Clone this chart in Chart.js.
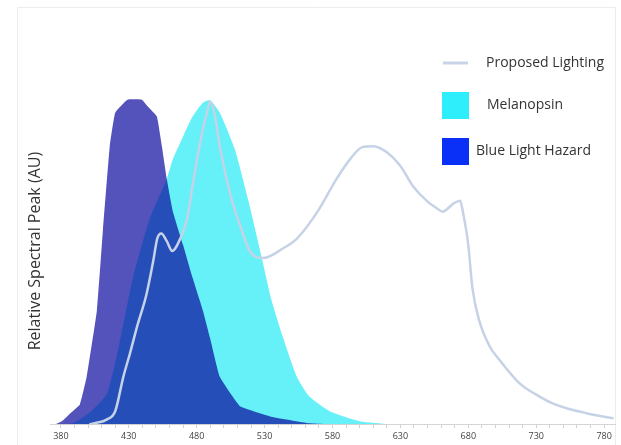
<!DOCTYPE html>
<html lang="en">
<head>
<meta charset="UTF-8">
<title>Relative Spectral Peak</title>
<style>
  html, body { margin: 0; padding: 0; background: #fff; }
  #wrap { width: 621px; height: 445px; position: relative; }
</style>
</head>
<body>
<div id="wrap"><canvas id="spectrumChart"></canvas></div>

<script src="https://cdn.jsdelivr.net/npm/chart.js@4.4.1/dist/chart.umd.min.js"></script>
<script>
// x axis labels (nm); minor tick marks every 10 nm between them
const xTickLabels = [380, 430, 480, 530, 580, 630, 680, 730, 780];

// Proposed Lighting spectrum
const lightNm  = [401, 405, 414, 420, 426, 431, 436, 443, 448, 451, 454, 458, 462, 468, 473, 477, 482, 487.5, 490, 493, 497, 502, 507, 512, 519, 529, 544, 554, 569, 583, 593, 602, 610, 620, 630, 639, 650, 657, 661, 669, 674, 676, 680, 683, 688, 696, 703, 718, 730, 742, 755, 767, 779, 787];
const lightVal = [0.0, 0.003, 0.015, 0.04, 0.146, 0.22, 0.299, 0.40, 0.503, 0.573, 0.588, 0.564, 0.534, 0.573, 0.634, 0.735, 0.857, 0.96, 0.994, 0.96, 0.857, 0.756, 0.674, 0.613, 0.534, 0.512, 0.543, 0.573, 0.655, 0.756, 0.817, 0.854, 0.857, 0.838, 0.796, 0.735, 0.686, 0.665, 0.655, 0.68, 0.689, 0.655, 0.552, 0.42, 0.32, 0.238, 0.198, 0.125, 0.091, 0.064, 0.046, 0.034, 0.024, 0.018];

// Melanopsin sensitivity
const melNm  = [385, 390, 401, 414, 423, 433, 445.5, 458, 462.5, 470, 477, 484.6, 490, 497, 508, 517.7, 528, 534.6, 543.5, 553.8, 563, 578, 600, 622];
const melVal = [0.0, 0.005, 0.035, 0.095, 0.247, 0.45, 0.634, 0.756, 0.817, 0.887, 0.948, 0.991, 0.998, 0.96, 0.848, 0.695, 0.512, 0.39, 0.268, 0.146, 0.085, 0.04, 0.009, 0.0];

// Blue Light Hazard function
const blhNm  = [376, 381, 387, 394, 399, 406.5, 411, 416, 420, 429, 439.6, 444, 450.7, 454.4, 458, 462.5, 470, 477, 484.6, 489.7, 497, 512, 534, 563, 580];
const blhVal = [0.0, 0.01, 0.034, 0.061, 0.146, 0.35, 0.60, 0.857, 0.96, 1.0, 1.0, 0.979, 0.948, 0.857, 0.756, 0.655, 0.552, 0.451, 0.35, 0.268, 0.146, 0.055, 0.024, 0.003, 0.0];

const toPoints = (xs, ys) => xs.map((x, i) => ({ x: x, y: ys[i] }));

const fontFamily = '"Open Sans", "DejaVu Sans", sans-serif';

// light frame around the figure
const framePlugin = {
    id: 'frame',
    beforeDraw(chart) {
        const ctx = chart.ctx;
        ctx.save();
        ctx.strokeStyle = '#ececec';
        ctx.lineWidth = 1;
        ctx.beginPath();
        ctx.moveTo(17.5, chart.height + 5);
        ctx.lineTo(17.5, 7.5);
        ctx.lineTo(615.5, 7.5);
        ctx.lineTo(615.5, chart.height + 5);
        ctx.stroke();
        ctx.restore();
    }
};

// legend drawn inside the plot, top right
const legendPlugin = {
    id: 'insideLegend',
    afterDraw(chart) {
        const ctx = chart.ctx;
        ctx.save();
        ctx.font = '14px ' + fontFamily;
        ctx.textBaseline = 'middle';
        chart.data.datasets.forEach((ds) => {
            const lg = ds.legend;
            if (lg.kind === 'line') {
                ctx.strokeStyle = lg.color;
                ctx.lineWidth = 3;
                ctx.beginPath();
                ctx.moveTo(443, lg.y);
                ctx.lineTo(468, lg.y);
                ctx.stroke();
            } else {
                ctx.fillStyle = lg.color;
                ctx.fillRect(442, lg.y - 13, 27, 27);
            }
            ctx.fillStyle = '#333';
            ctx.fillText(ds.label, lg.textX, lg.y);
        });
        ctx.restore();
    }
};

const config = {
    type: 'line',
    data: {
        datasets: [
            {
                label: 'Proposed Lighting',
                data: toPoints(lightNm, lightVal),
                borderColor: '#c6d2e6',
                borderWidth: 2.5,
                pointRadius: 0,
                fill: false,
                tension: 0.3,
                cubicInterpolationMode: 'monotone',
                order: 0,
                legend: { kind: 'line', color: '#c8d3e6', y: 63, textX: 486 }
            },
            {
                label: 'Melanopsin',
                data: toPoints(melNm, melVal),
                backgroundColor: '#66f0f8',
                borderWidth: 0,
                pointRadius: 0,
                fill: 'origin',
                tension: 0.2,
                order: 2,
                legend: { kind: 'box', color: '#2eeefc', y: 105, textX: 487 }
            },
            {
                label: 'Blue Light Hazard',
                data: toPoints(blhNm, blhVal),
                backgroundColor: 'rgba(11, 8, 158, 0.7)',
                borderWidth: 0,
                pointRadius: 0,
                fill: 'origin',
                tension: 0.1,
                order: 1,
                legend: { kind: 'box', color: '#0a30f8', y: 151, textX: 476 }
            }
        ]
    },
    options: {
        responsive: true,
        maintainAspectRatio: false,
        animation: false,
        devicePixelRatio: 1,
        layout: { padding: { top: 78, right: 6, left: 0, bottom: 0 } },
        plugins: {
            legend: { display: false },
            tooltip: { enabled: false }
        },
        scales: {
            x: {
                type: 'linear',
                min: 372,
                max: 788,
                afterBuildTicks(scale) {
                    const ticks = [];
                    for (let v = xTickLabels[0]; v <= xTickLabels[xTickLabels.length - 1]; v += 10) {
                        ticks.push({ value: v });
                    }
                    scale.ticks = ticks;
                },
                ticks: {
                    autoSkip: false,
                    maxRotation: 0,
                    padding: 3,
                    color: '#444',
                    font: { family: fontFamily, size: 9 },
                    callback: (value) => xTickLabels.includes(value) ? String(value) : ''
                },
                grid: {
                    drawOnChartArea: false,
                    drawTicks: true,
                    tickLength: 4,
                    color: '#d4d4d4'
                },
                border: { color: '#d4d4d4' }
            },
            y: {
                min: 0,
                max: 1.067,
                afterFit(scale) { scale.width = 50; },
                ticks: { display: false },
                grid: { display: false },
                border: { display: false },
                title: {
                    display: true,
                    text: 'Relative Spectral Peak (AU)',
                    color: '#333',
                    font: { family: fontFamily, size: 16 },
                    padding: { top: 26, bottom: 0 }
                }
            }
        }
    },
    plugins: [framePlugin, legendPlugin]
};

new Chart(document.getElementById('spectrumChart').getContext('2d'), config);
</script>
</body>
</html>
